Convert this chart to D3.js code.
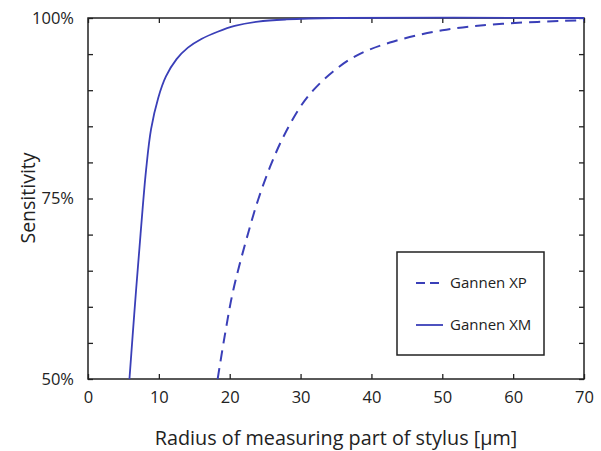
<!DOCTYPE html>
<html>
<head>
<meta charset="utf-8">
<script src="https://d3js.org/d3.v7.min.js"></script>
<style>
  body { margin: 0; background: #fff; }
  text { font-family: "Open Sans", "Noto Sans", sans-serif; fill: #222; }
</style>
</head>
<body>
<script>
// values
var xmRadius = [5.85, 6.3, 6.8, 7.25, 7.7, 8.2, 8.9, 9.9, 11.0, 12.5, 14.1, 16.0, 18.3, 20.7, 24, 28, 35, 70];
var xmSens   = [50, 56, 62.5, 68, 73.5, 79, 84.6, 88.9, 91.9, 94.3, 95.9, 97.1, 98.1, 98.9, 99.5, 99.8, 100, 100];
var xpRadius = [18.3, 19.3, 20.5, 22.6, 24.0, 25.7, 27.5, 29.9, 31.8, 34.6, 37.9, 42.6, 50, 58.5, 70];
var xpSens   = [50, 56, 62.3, 70.2, 74.8, 79.4, 83.4, 87.6, 90.0, 92.6, 94.8, 96.6, 98.3, 99.2, 99.7];
var xTicks = [0, 10, 20, 30, 40, 50, 60, 70];
var yMinorTicks = [50, 55, 60, 65, 70, 75, 80, 85, 90, 95, 100];
var yLabelTicks = [50, 75, 100];
var seriesNames = ["Gannen XP", "Gannen XM"];

(function () {
  var W = 601, H = 451;
  var pLeft = 88, pRight = 584, pTop = 18, pBottom = 379;
  var lineColor = "#3a3fb8";
  var font = '"Open Sans", "Noto Sans", sans-serif';

  var svg = d3.select("body").append("svg")
      .attr("width", W).attr("height", H);

  var x = d3.scaleLinear().domain([0, 70]).range([pLeft, pRight]);
  var y = d3.scaleLinear().domain([50, 100]).range([pBottom, pTop]);

  svg.append("clipPath").attr("id", "plot")
    .append("rect").attr("x", pLeft).attr("y", pTop - 2)
      .attr("width", pRight - pLeft).attr("height", pBottom - pTop + 2);

  // ticks on all four sides, pointing inward
  var tk = 5;
  var noDomain = function (g) { g.select(".domain").remove(); };
  svg.append("g").attr("transform", "translate(0," + pBottom + ")")
      .call(d3.axisBottom(x).tickValues(xTicks).tickSize(-tk).tickPadding(12).tickFormat(d3.format("d")))
      .call(noDomain);
  svg.append("g").attr("transform", "translate(0," + pTop + ")")
      .call(d3.axisTop(x).tickValues(xTicks).tickSize(-tk).tickFormat(""))
      .call(noDomain);
  svg.append("g").attr("transform", "translate(" + pLeft + ",0)")
      .call(d3.axisLeft(y).tickValues(yMinorTicks).tickSize(-tk).tickPadding(14)
        .tickFormat(function (d) { return yLabelTicks.indexOf(d) >= 0 ? d + "%" : ""; }))
      .call(noDomain);
  svg.append("g").attr("transform", "translate(" + pRight + ",0)")
      .call(d3.axisRight(y).tickValues(yMinorTicks).tickSize(-tk).tickFormat(""))
      .call(noDomain);

  svg.selectAll(".tick line").attr("stroke", "#222").attr("stroke-width", 1.3);
  svg.selectAll(".tick text")
      .attr("font-family", font).attr("font-size", 16.5).attr("fill", "#222");

  // frame
  svg.append("rect")
      .attr("x", pLeft).attr("y", pTop)
      .attr("width", pRight - pLeft).attr("height", pBottom - pTop)
      .attr("fill", "none").attr("stroke", "#222").attr("stroke-width", 1.5);

  var line = d3.line()
      .x(function (d) { return x(d[0]); })
      .y(function (d) { return y(d[1]); })
      .curve(d3.curveCatmullRom.alpha(0.5));

  var xp = d3.zip(xpRadius, xpSens);
  var xm = d3.zip(xmRadius, xmSens);

  var curves = svg.append("g").attr("clip-path", "url(#plot)");
  curves.append("path").datum(xp)
      .attr("d", line).attr("fill", "none")
      .attr("stroke", lineColor).attr("stroke-width", 2)
      .attr("stroke-dasharray", "11,7");
  curves.append("path").datum(xm)
      .attr("d", line).attr("fill", "none")
      .attr("stroke", lineColor).attr("stroke-width", 1.8);

  // axis titles
  svg.append("text")
      .attr("x", 336).attr("y", 445)
      .attr("text-anchor", "middle").style("font-size", "19.8px")
      .text("Radius of measuring part of stylus [µm]");
  svg.append("text")
      .attr("transform", "translate(35,198) rotate(-90)")
      .attr("text-anchor", "middle").style("font-size", "19.5px")
      .text("Sensitivity");

  // legend
  var lg = svg.append("g");
  lg.append("rect")
      .attr("x", 397).attr("y", 252).attr("width", 147).attr("height", 103)
      .attr("fill", "#fff").attr("stroke", "#222").attr("stroke-width", 1.5);
  seriesNames.forEach(function (name, i) {
    var ly = 283 + i * 42;
    lg.append("line")
        .attr("x1", 416).attr("x2", 443).attr("y1", ly).attr("y2", ly)
        .attr("stroke", lineColor).attr("stroke-width", i === 0 ? 2 : 1.8)
        .attr("stroke-dasharray", i === 0 ? "9,5" : null);
    lg.append("text")
        .attr("x", 450).attr("y", ly + 5)
        .style("font-size", "15px")
        .text(name);
  });
})();
</script>
</body>
</html>
